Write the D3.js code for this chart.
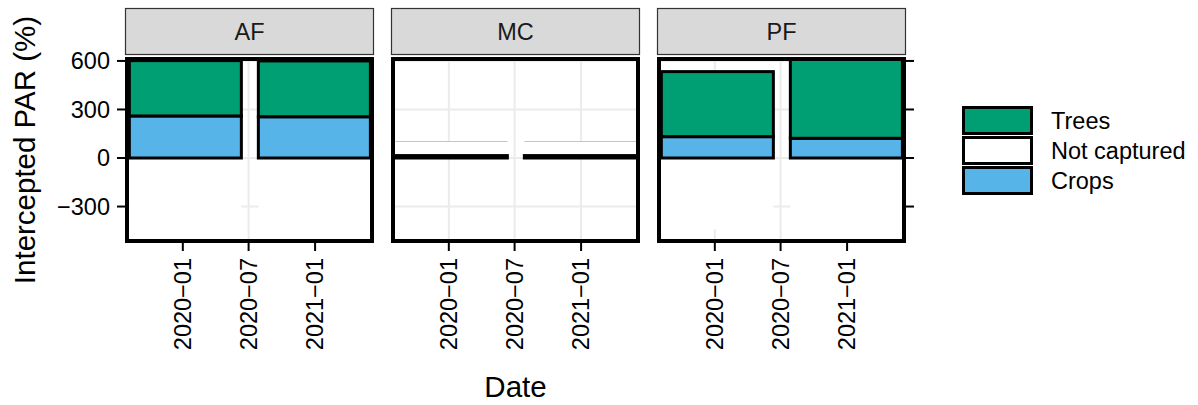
<!DOCTYPE html>
<html>
<head>
<meta charset="utf-8">
<script src="https://cdn.jsdelivr.net/npm/d3@7"></script>
<style>
  body { margin: 0; background: #fff; }
  text { font-family: "Liberation Sans", Arial, Helvetica, sans-serif; }
</style>
</head>
<body>
<div id="chart"></div>
<script>
// Facets and bar dates
var panels = ["AF", "MC", "PF"];
var barDates = ["2020-01-08", "2020-12-30"];
var tickDates = ["2020-01-01", "2020-07-01", "2021-01-01"];
var tickDateLabels = ["2020\u221201", "2020\u221207", "2021\u221201"];
var yTicks = [600, 300, 0, -300];

// Intercepted PAR (%) per panel (AF, MC, PF), one value per bar date
var cropsPAR = [[260, 255], [0, 0], [132, 122]];
var treesPAR = [[342, 345], [15, 15], [402, 495]];
var notCapturedPAR = [[-502, -500], [102, 102], [-440, -517]];

var legendLabels = ["Trees", "Not captured", "Crops"];
var legendColors = ["#009E73", "#ffffff", "#56B4E9"];

var width = 1198, height = 405;
var panelW = 249, panelStep = 266, panelLeft = 125;
var panelTop = 57, panelBottom = 243;
var barDays = 310;
var parseDate = d3.timeParse("%Y-%m-%d");
var font = "23.5px";

var svg = d3.select("#chart").append("svg")
    .attr("width", width)
    .attr("height", height);

svg.append("rect").attr("width", width).attr("height", height).attr("fill", "#fff");

var y = d3.scaleLinear()
    .domain([-513, 612])
    .range([241, 59]);

panels.forEach(function(name, i) {
  var x0 = panelLeft + i * panelStep;
  var x = d3.scaleTime()
      .domain([parseDate("2019-07-25"), parseDate("2021-06-13")])
      .range([x0, x0 + panelW]);

  var g = svg.append("g");

  // clip to panel
  g.append("clipPath").attr("id", "clip" + i)
    .append("rect")
      .attr("x", x0).attr("y", panelTop)
      .attr("width", panelW).attr("height", panelBottom - panelTop);

  var inner = g.append("g").attr("clip-path", "url(#clip" + i + ")");

  // grid
  inner.selectAll(".hgrid")
    .data(yTicks)
    .enter().append("line")
      .attr("x1", x0).attr("x2", x0 + panelW)
      .attr("y1", function(d) { return y(d); })
      .attr("y2", function(d) { return y(d); })
      .attr("stroke", "#ebebeb").attr("stroke-width", 2);
  inner.selectAll(".vgrid")
    .data(tickDates)
    .enter().append("line")
      .attr("x1", function(d) { return x(parseDate(d)); })
      .attr("x2", function(d) { return x(parseDate(d)); })
      .attr("y1", panelTop).attr("y2", panelBottom)
      .attr("stroke", "#ebebeb").attr("stroke-width", 2);

  function barX(d) { return x(d3.timeDay.offset(parseDate(d), -barDays / 2)); }
  function barW(d) {
    var c = parseDate(d);
    return x(d3.timeDay.offset(c, barDays / 2)) - x(d3.timeDay.offset(c, -barDays / 2));
  }

  // Not captured
  inner.selectAll(".nc")
    .data(barDates)
    .enter().append("rect")
      .attr("x", barX)
      .attr("width", barW)
      .attr("y", function(d, j) { return y(Math.max(0, notCapturedPAR[i][j])); })
      .attr("height", function(d, j) { return Math.abs(y(notCapturedPAR[i][j]) - y(0)); })
      .attr("fill", "#fff");
  inner.selectAll(".ncTop")
    .data(barDates.filter(function(d, j) { return notCapturedPAR[i][j] > 0; }))
    .enter().append("line")
      .attr("x1", barX)
      .attr("x2", function(d) { return barX(d) + barW(d); })
      .attr("y1", function(d) { return y(notCapturedPAR[i][barDates.indexOf(d)]); })
      .attr("y2", function(d) { return y(notCapturedPAR[i][barDates.indexOf(d)]); })
      .attr("stroke", "#c4c4c4").attr("stroke-width", 1);

  // Crops
  inner.selectAll(".crops")
    .data(barDates)
    .enter().append("rect")
      .attr("x", barX)
      .attr("width", barW)
      .attr("y", function(d, j) { return y(cropsPAR[i][j]); })
      .attr("height", function(d, j) { return y(0) - y(cropsPAR[i][j]); })
      .attr("fill", "#56B4E9")
      .attr("stroke", "#000").attr("stroke-width", 3);

  // Trees stacked on crops
  inner.selectAll(".trees")
    .data(barDates)
    .enter().append("rect")
      .attr("x", barX)
      .attr("width", barW)
      .attr("y", function(d, j) { return y(cropsPAR[i][j] + treesPAR[i][j]); })
      .attr("height", function(d, j) { return y(cropsPAR[i][j]) - y(cropsPAR[i][j] + treesPAR[i][j]); })
      .attr("fill", "#009E73")
      .attr("stroke", "#000").attr("stroke-width", 3);

  // panel border
  g.append("rect")
    .attr("x", x0 + 2).attr("y", panelTop + 2)
    .attr("width", panelW - 4).attr("height", panelBottom - panelTop - 4)
    .attr("fill", "none").attr("stroke", "#000").attr("stroke-width", 4);

  // strip
  g.append("rect")
    .attr("x", x0 + 0.5).attr("y", 8.5)
    .attr("width", panelW - 1).attr("height", 46)
    .attr("fill", "#d9d9d9").attr("stroke", "#333").attr("stroke-width", 1.2);
  g.append("text")
    .attr("x", x0 + panelW / 2).attr("y", 31.5)
    .attr("dy", "0.35em")
    .attr("text-anchor", "middle")
    .attr("fill", "#1a1a1a")
    .style("font-size", font)
    .text(name);

  // x ticks and labels
  g.selectAll(".xtick")
    .data(tickDates)
    .enter().append("line")
      .attr("x1", function(d) { return x(parseDate(d)); })
      .attr("x2", function(d) { return x(parseDate(d)); })
      .attr("y1", panelBottom).attr("y2", panelBottom + 8)
      .attr("stroke", "#000").attr("stroke-width", 2);
  g.selectAll(".xlab")
    .data(tickDates)
    .enter().append("text")
      .attr("transform", function(d) { return "translate(" + x(parseDate(d)) + ",258) rotate(-90)"; })
      .attr("dy", "0.35em")
      .attr("text-anchor", "end")
      .attr("fill", "#000")
      .style("font-size", font)
      .text(function(d, j) { return tickDateLabels[j]; });

  // y ticks on the outer sides
  if (i === 0 || i === panels.length - 1) {
    var tx = i === 0 ? x0 : x0 + panelW;
    var dir = i === 0 ? -1 : 1;
    g.selectAll(".ytick")
      .data(yTicks)
      .enter().append("line")
        .attr("x1", tx).attr("x2", tx + dir * 8)
        .attr("y1", function(d) { return y(d); })
        .attr("y2", function(d) { return y(d); })
        .attr("stroke", "#000").attr("stroke-width", 2);
  }
  if (i === 0) {
    g.selectAll(".ylab")
      .data(yTicks)
      .enter().append("text")
        .attr("x", x0 - 15)
        .attr("y", function(d) { return y(d); })
        .attr("dy", "0.35em")
        .attr("text-anchor", "end")
        .attr("fill", "#000")
        .style("font-size", font)
        .text(function(d) { return d < 0 ? "\u2212" + Math.abs(d) : d; });
  }
});

// axis titles
svg.append("text")
  .attr("x", panelLeft + panelStep + panelW / 2)
  .attr("y", 397)
  .attr("text-anchor", "middle")
  .style("font-size", "29.5px")
  .text("Date");

svg.append("text")
  .attr("transform", "translate(35," + ((panelTop + panelBottom) / 2) + ") rotate(-90)")
  .attr("text-anchor", "middle")
  .style("font-size", "29.5px")
  .text("Intercepted PAR (%)");

// legend
var legend = svg.append("g");
legend.selectAll(".key")
  .data(legendLabels)
  .enter().append("rect")
    .attr("x", 963.5)
    .attr("y", function(d, i) { return 107.5 + i * 30; })
    .attr("width", 68).attr("height", 26)
    .attr("fill", function(d, i) { return legendColors[i]; })
    .attr("stroke", "#000").attr("stroke-width", 3);
legend.selectAll(".lab")
  .data(legendLabels)
  .enter().append("text")
    .attr("x", 1051)
    .attr("y", function(d, i) { return 120.5 + i * 30; })
    .attr("dy", "0.35em")
    .style("font-size", font)
    .text(function(d) { return d; });
</script>
</body>
</html>
